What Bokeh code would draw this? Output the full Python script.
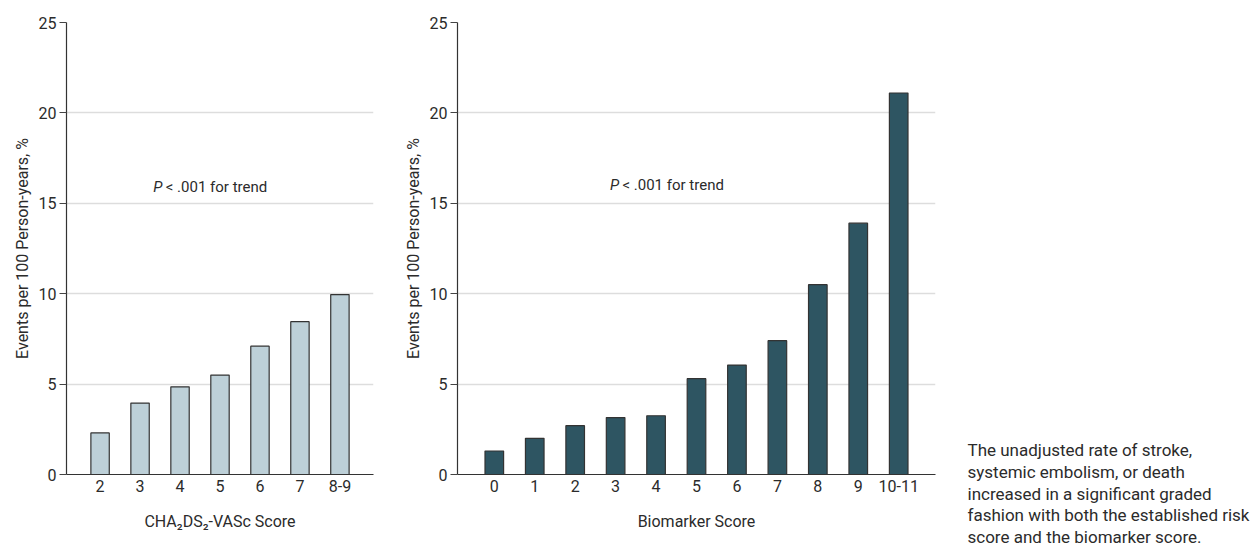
from bokeh.plotting import figure
from bokeh.models import FactorRange, Range1d, FixedTicker, Label, ColumnDataSource
from bokeh.layouts import row, column
from bokeh.embed import file_html
from bokeh.resources import INLINE
from bokeh.core.properties import value

# ---- data ----
cha_scores = ["2", "3", "4", "5", "6", "7", "8-9"]
cha_rates = [2.3, 3.95, 4.85, 5.5, 7.1, 8.45, 9.95]

bio_scores = ["0", "1", "2", "3", "4", "5", "6", "7", "8", "9", "10-11"]
bio_rates = [1.3, 2.0, 2.7, 3.15, 3.25, 5.3, 6.05, 7.4, 10.5, 13.9, 21.1]

y_ticks = [0, 5, 10, 15, 20, 25]
y_label = "Events per 100 Person-years, %"
cha_label = "CHA\u2082DS\u2082-VASc Score"
bio_label = "Biomarker Score"
p_text_italic = "P"
p_text_rest = "< .001 for trend"
caption_lines = [
    "The unadjusted rate of stroke,",
    "systemic embolism, or death",
    "increased in a significant graded",
    "fashion with both the established risk",
    "score and the biomarker score.",
]

FONT = "Roboto"
TXT = "#2b2b2b"
H = 548
TOP, BOTTOM = 22, 74


def make_panel(factors, rates, fill, xlabel, width, left, right, pad, p_x, p_y):
    p = figure(
        x_range=FactorRange(factors=factors, range_padding=pad, range_padding_units="absolute"),
        y_range=Range1d(0, 25),
        width=width, height=H,
        output_backend="svg", toolbar_location=None,
        min_border_left=left, min_border_right=right,
        min_border_top=TOP, min_border_bottom=BOTTOM,
    )
    src = ColumnDataSource(dict(x=factors, top=rates))
    p.vbar(x="x", top="top", bottom=0, width=0.46, source=src,
           fill_color=fill, line_color="#333333", line_width=1.2)

    p.outline_line_color = None
    p.xgrid.grid_line_color = None
    p.ygrid.grid_line_color = "#dddddd"
    p.ygrid.grid_line_width = 1.5

    ya = p.yaxis[0]
    ya.ticker = FixedTicker(ticks=y_ticks)
    ya.minor_tick_line_color = None
    ya.major_tick_in = 0
    ya.major_tick_out = 7
    ya.major_tick_line_color = "#444444"
    ya.axis_line_color = "#333333"
    ya.axis_line_width = 1.2
    ya.major_label_text_font = FONT
    ya.major_label_text_font_size = "16px"
    ya.major_label_text_color = TXT
    ya.major_label_standoff = 3
    ya.axis_label = y_label
    ya.axis_label_text_font = FONT
    ya.axis_label_text_font_size = "16px"
    ya.axis_label_text_font_style = "normal"
    ya.axis_label_text_color = TXT
    ya.axis_label_standoff = 4

    xa = p.xaxis[0]
    xa.major_tick_line_color = None
    xa.major_tick_out = 0
    xa.major_tick_in = 0
    xa.minor_tick_line_color = None
    xa.axis_line_color = "#333333"
    xa.axis_line_width = 1.2
    xa.major_label_text_font = FONT
    xa.major_label_text_font_size = "16px"
    xa.major_label_text_color = TXT
    xa.major_label_standoff = 5
    xa.axis_label = xlabel
    xa.axis_label_text_font = FONT
    xa.axis_label_text_font_size = "16px"
    xa.axis_label_text_font_style = "normal"
    xa.axis_label_text_color = TXT
    xa.axis_label_standoff = 17

    p.add_layout(Label(x=p_x, y=p_y, text=p_text_italic, text_font=FONT,
                       text_font_size="15px", text_font_style="italic",
                       text_color=TXT, text_baseline="alphabetic"))
    p.add_layout(Label(x=p_x, y=p_y, x_offset=12.5, text=p_text_rest, text_font=FONT,
                       text_font_size="15px", text_color=TXT, text_baseline="alphabetic"))
    return p


p1 = make_panel(cha_scores, cha_rates, "#bdd0d8", cha_label, 390, 66, 17, 0.34, 1.83, 15.9)
p2 = make_panel(bio_scores, bio_rates, "#2e5562", bio_label, 560, 67, 15, 0.41, 3.36, 16.0)

# caption panel: frame fills the whole panel, y data = page pixels from the bottom
p3 = figure(width=310, height=H, x_range=Range1d(0, 310), y_range=Range1d(0, H),
            output_backend="svg", toolbar_location=None,
            min_border=0, min_border_left=0, min_border_right=0,
            min_border_top=0, min_border_bottom=0,
            x_axis_location=None, y_axis_location=None)
p3.outline_line_color = None
p3.grid.visible = False
first_baseline = 449.5
line_step = 21.8
cap_y = [H - (first_baseline + line_step * i) for i in range(len(caption_lines))]
p3.text(x=[17] * len(caption_lines), y=cap_y, text=caption_lines,
        text_font=value(FONT), text_font_size=value("17px"),
        text_color=TXT, text_baseline="alphabetic")

layout = row(row(p1, p2), column(p3))
open("out.html", "w").write(file_html(layout, INLINE))
